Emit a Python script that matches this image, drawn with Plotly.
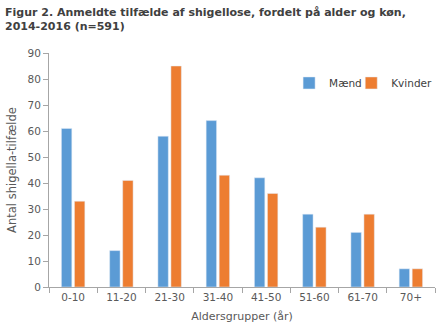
import plotly.graph_objects as go

categories = ["0-10", "11-20", "21-30", "31-40", "41-50", "51-60", "61-70", "70+"]
maend = [61, 14, 58, 64, 42, 28, 21, 7]
kvinder = [33, 41, 85, 43, 36, 23, 28, 7]
y_ticks = [0, 10, 20, 30, 40, 50, 60, 70, 80, 90]
title_text = "<b>Figur 2. Anmeldte tilfælde af shigellose, fordelt på alder og køn,<br>2014-2016 (n=591)</b>"

FONT = "DejaVu Sans"
fig = go.Figure()
fig.add_trace(go.Bar(x=categories, y=maend, name="Mænd", marker_color="#5B9BD5",
                     legend="legend", showlegend=True))
fig.add_trace(go.Bar(x=categories, y=kvinder, name="Kvinder", marker_color="#ED7D31",
                     legend="legend2", showlegend=True))

fig.add_annotation(
    text=title_text, xref="paper", yref="paper", x=-0.119, y=1.21,
    xanchor="left", yanchor="top", showarrow=False, align="left",
    font=dict(family=FONT, size=11, color="#404040"),
)

leg_common = dict(
    orientation="h", y=0.872, xanchor="left", yanchor="middle",
    font=dict(family=FONT, size=10.5, color="#404040"), bgcolor="rgba(0,0,0,0)",
)

fig.update_layout(
    width=440, height=330,
    showlegend=True,
    margin=dict(l=49, r=5, t=53, b=43, autoexpand=False),
    paper_bgcolor="white", plot_bgcolor="white",
    barmode="group", bargap=0.46, bargroupgap=0.2,
    font=dict(family=FONT, size=10.5, color="#595959"),
    legend=dict(x=0.622, **leg_common),
    legend2=dict(x=0.783, **leg_common),
    xaxis=dict(
        showline=True, linecolor="#A6A6A6", linewidth=1,
        ticks="outside", tickson="boundaries", ticklen=5, tickcolor="#A6A6A6",
        showgrid=False,
        title=dict(text="Aldersgrupper (år)", standoff=10, font=dict(size=11, color="#595959")),
    ),
    yaxis=dict(
        range=[0, 90], tickvals=y_ticks,
        showline=True, linecolor="#A6A6A6", linewidth=1,
        ticks="outside", ticklen=5, tickcolor="#A6A6A6",
        showgrid=False, zeroline=False,
        title=dict(text="Antal shigella-tilfælde", standoff=8, font=dict(size=11.5, color="#595959")),
    ),
)
fig.write_html("out.html")
